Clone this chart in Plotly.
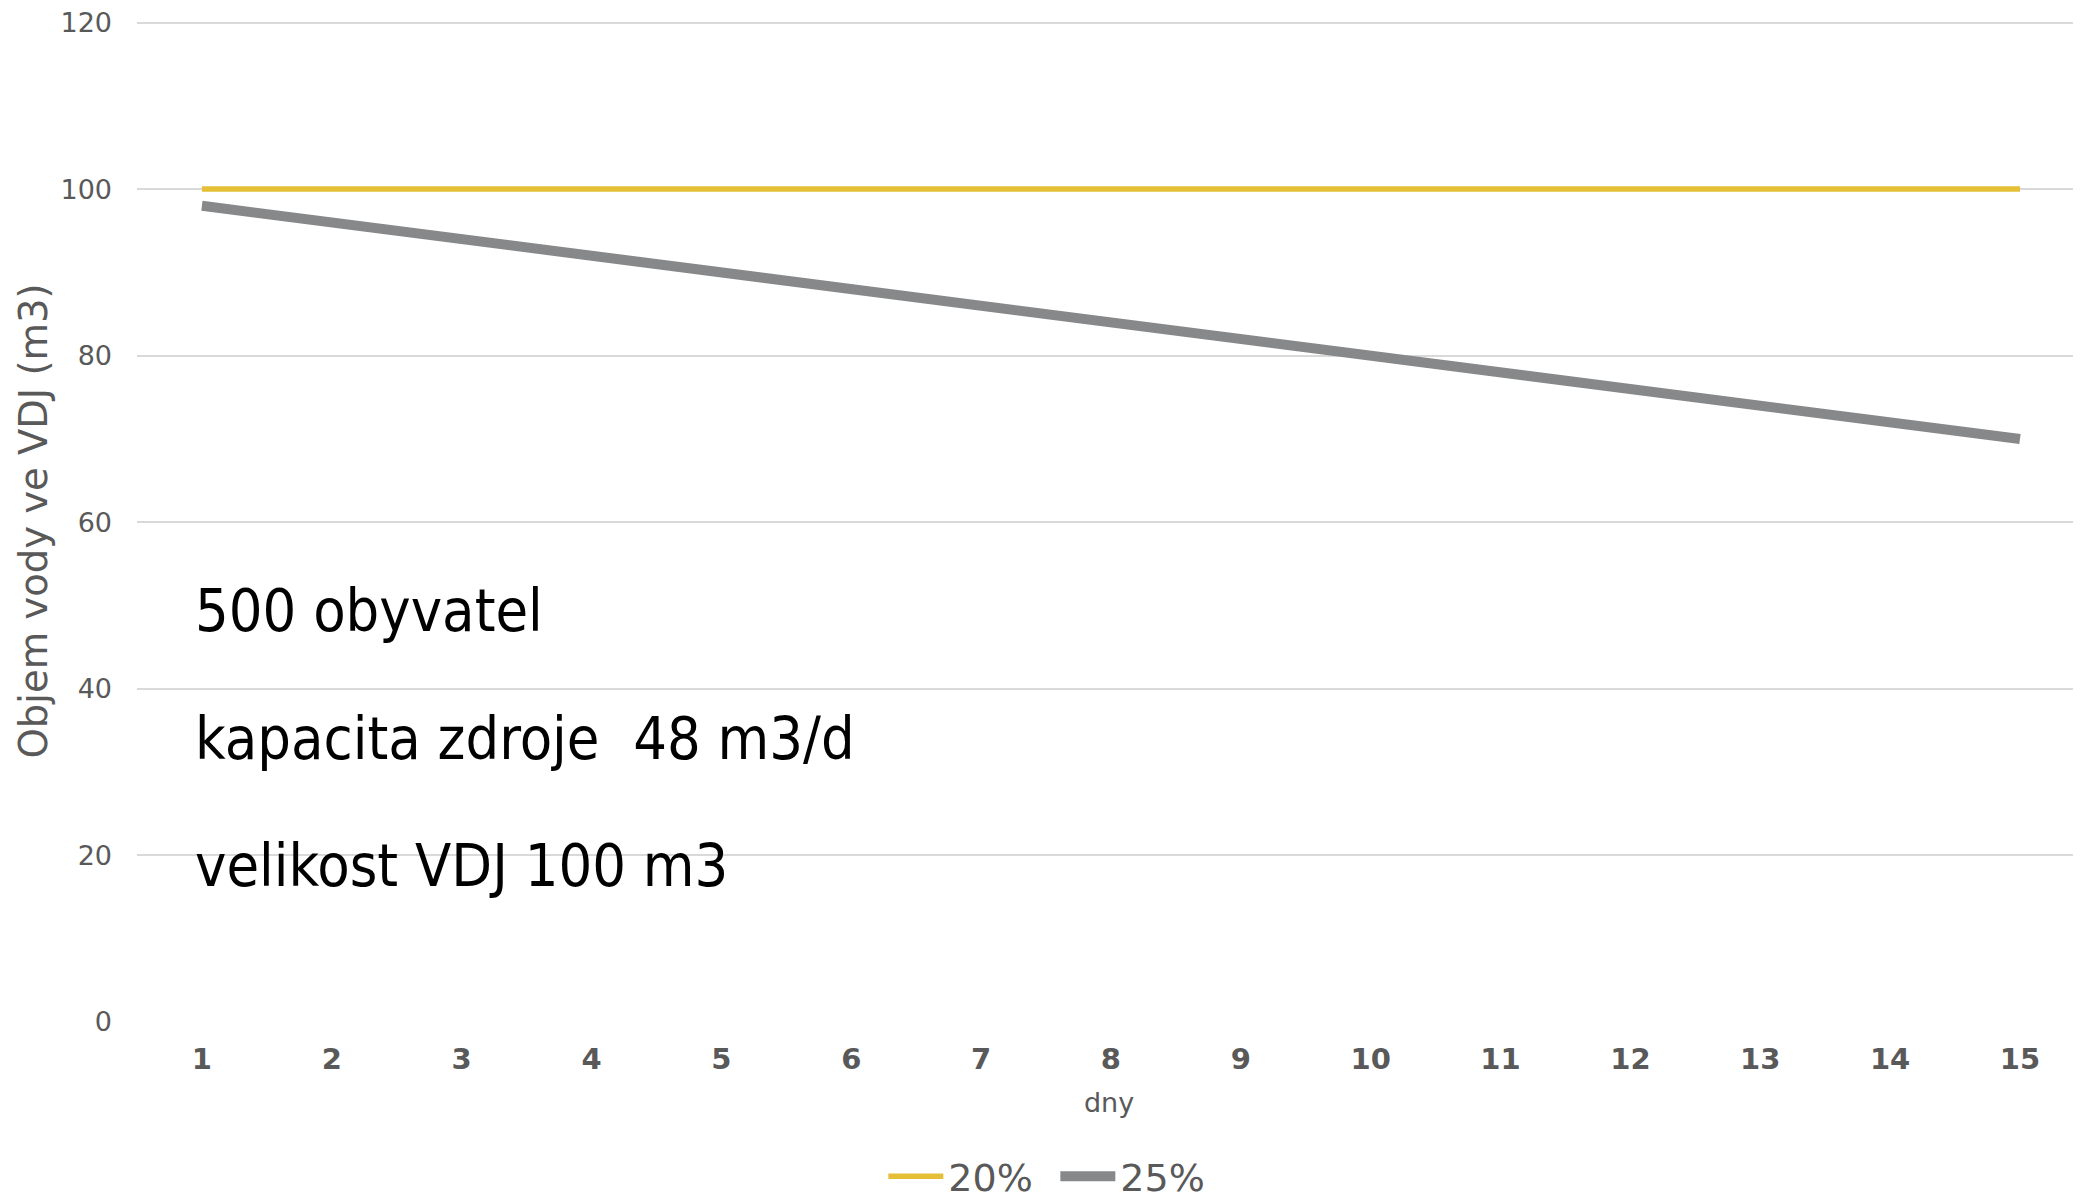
import plotly.graph_objects as go

days = list(range(1, 16))
objem_20 = [100] * 15
objem_25 = [98, 96, 94, 92, 90, 88, 86, 84, 82, 80, 78, 76, 74, 72, 70]
info_lines = ["500 obyvatel", "kapacita zdroje  48 m3/d", "velikost VDJ 100 m3"]
info_y = [49.4, 34.0, 18.8]

GRAY_TEXT = "#595959"

fig = go.Figure()
fig.add_trace(go.Scatter(x=days, y=objem_20, mode="lines", name="20%",
                         line=dict(color="#E5BF35", width=5.5)))
fig.add_trace(go.Scatter(x=days, y=objem_25, mode="lines", name="25%",
                         line=dict(color="#87888A", width=10)))

# white box behind the info text hides the gridlines
fig.add_shape(type="rect", xref="paper", yref="y", x0=0.0206, x1=0.407, y0=9, y1=57,
              fillcolor="white", line=dict(width=0), layer="between")
for txt, yy in zip(info_lines, info_y):
    fig.add_annotation(text=txt, xref="paper", yref="y", x=0.029, y=yy,
                       xanchor="left", yanchor="middle", showarrow=False,
                       font=dict(family="DejaVu Sans Condensed, sans-serif",
                                 size=59, color="black"))

# page body has an 8px margin, so the figure is 8px smaller than the window
fig.update_layout(
    width=2073, height=1193,
    margin=dict(l=129, r=0, t=11.5, b=179),
    plot_bgcolor="white", paper_bgcolor="white",
    font=dict(family="DejaVu Sans, Verdana, sans-serif", color=GRAY_TEXT),
    legend=dict(orientation="h", x=0.4724, xanchor="center",
                yref="container", y=0.0205, yanchor="middle",
                font=dict(size=38, color=GRAY_TEXT), itemwidth=55,
                entrywidth=102, entrywidthmode="pixels"),
    xaxis=dict(range=[0.5, 15.47], tickvals=days, showgrid=False, zeroline=False,
               showline=False, ticks="", ticklabelstandoff=17,
               tickfont=dict(size=29, weight="bold", color=GRAY_TEXT),
               title=dict(text="dny", font=dict(size=27, color=GRAY_TEXT), standoff=18)),
    yaxis=dict(range=[0, 120.3], tickvals=[0, 20, 40, 60, 80, 100, 120],
               showgrid=True, gridcolor="#D9D9D9", gridwidth=2,
               zeroline=False, showline=False, ticks="", ticklabelstandoff=24,
               ticklabeloverflow="allow",
               tickfont=dict(size=27, color=GRAY_TEXT),
               title=dict(text="Objem vody ve VDJ (m3)", font=dict(size=38.5, color=GRAY_TEXT),
                          standoff=0)),
)

fig.write_html("out.html")
